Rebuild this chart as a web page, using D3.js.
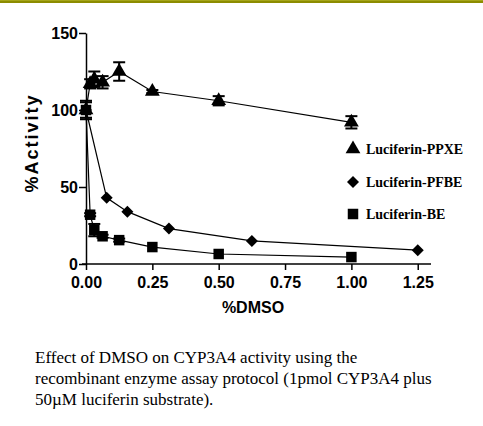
<!DOCTYPE html>
<html>
<head>
<meta charset="utf-8">
<script src="https://cdn.jsdelivr.net/npm/d3@7"></script>
<style>
  body { margin: 0; background: #fff; }
  .caption { position: absolute; left: 35px; top: 347px; white-space: nowrap;
    font: 17px "Liberation Serif", "Times New Roman", serif; line-height: 21px; color: #000; }
</style>
</head>
<body>
<div class="main"></div>
<div class="caption">Effect of DMSO on CYP3A4 activity using the<br>recombinant enzyme assay protocol (1pmol CYP3A4 plus<br>50µM luciferin substrate).</div>
<script>
const width = 483;
const height = 426;
const margin = ({top: 33, right: 52, bottom: 162, left: 86})

// %DMSO / %Activity
const ppxeX = [0, 0.0156, 0.03125, 0.0625, 0.125, 0.25, 0.5, 1.0];
const ppxeY = [100, 117, 120, 118, 125, 112, 106, 92];
const ppxeErr = [6, 3, 5, 4, 6, 1, 3, 4];

const pfbeX = [0, 0.078, 0.156, 0.3125, 0.625, 1.25];
const pfbeY = [100, 43, 34, 23, 15, 9];
const pfbeErr = [0, 0, 0, 0, 0, 0];

const beX = [0, 0.0156, 0.03125, 0.0625, 0.125, 0.25, 0.5, 1.0];
const beY = [100, 32, 22, 18, 15.5, 11, 6.5, 4.5];
const beErr = [5, 1, 4, 1, 1, 0, 0, 0];

const xTicks = [0, 0.25, 0.5, 0.75, 1.0, 1.25];
const yTicks = [0, 50, 100, 150];
const legendNames = ['Luciferin-PPXE', 'Luciferin-PFBE', 'Luciferin-BE'];

// diamond = square turned 45 degrees
const diamond = {
  draw(context, size) {
    const r = Math.sqrt(size / 2);
    context.moveTo(0, -r);
    context.lineTo(r, 0);
    context.lineTo(0, r);
    context.lineTo(-r, 0);
    context.closePath();
  }
};

const series = [
  {name: legendNames[0], shape: d3.symbolTriangle, size: 95, xs: ppxeX, ys: ppxeY, err: ppxeErr},
  {name: legendNames[1], shape: diamond, size: 72, xs: pfbeX, ys: pfbeY, err: pfbeErr},
  {name: legendNames[2], shape: d3.symbolSquare, size: 110, xs: beX, ys: beY, err: beErr},
];

const svg = d3.select('.main')
  .append('svg')
  .attr('width', width)
  .attr('height', height)
  .style('position', 'absolute')
  .style('left', 0).style('top', 0);

// olive rule along the top
svg.append('rect').attr('x', 0).attr('y', 0).attr('width', width).attr('height', 3).attr('fill', '#8c8c00');
svg.append('rect').attr('x', 0).attr('y', 0).attr('width', width).attr('height', 1).attr('fill', '#a5a51a');

const x = d3.scaleLinear()
  .domain([0, 1.3])
  .range([margin.left, width - margin.right]);

const y = d3.scaleLinear()
  .domain([0, 150])
  .range([height - margin.bottom, margin.top]);

const fontAxis = 'bold 16px "Liberation Sans", Arial, sans-serif';

// x axis
const gx = svg.append('g')
  .attr('transform', `translate(0, ${y(0)})`)
  .call(d3.axisBottom(x).tickValues(xTicks).tickFormat(d3.format('.2f')).tickSize(6).tickSizeOuter(0))
gx.select('.domain').attr('stroke-width', 1.5).attr('d', `M${x(0) - 4},0H${x(1.3)}`);
gx.selectAll('.tick line').attr('stroke-width', 1.5);
gx.selectAll('text').style('font', fontAxis).attr('y', 24).attr('dy', 0);

// y axis
const gy = svg.append('g')
  .attr('transform', `translate(${x(0)}, 0)`)
  .call(d3.axisLeft(y).tickValues(yTicks).tickSize(7).tickSizeOuter(0))
gy.select('.domain').attr('stroke-width', 1.5);
gy.selectAll('.tick line').attr('stroke-width', 1.5);
gy.selectAll('text').style('font', fontAxis).attr('x', -8);

// axis titles
svg.append('text')
  .attr('x', 253)
  .attr('y', 313)
  .attr('text-anchor', 'middle')
  .style('font', 'bold 16px "Liberation Sans", Arial, sans-serif')
  .text('%DMSO');

svg.append('text')
  .attr('transform', `translate(38, 143) rotate(-90)`)
  .attr('text-anchor', 'middle')
  .style('font', 'bold 18px "Liberation Sans", Arial, sans-serif')
  .style('letter-spacing', '2px')
  .text('%Activity');

const line = d3.line().x(d => x(d[0])).y(d => y(d[1]));

series.forEach(s => {
  const pts = s.xs.map((v, i) => [v, s.ys[i], s.err[i]]);
  const g = svg.append('g');

  g.append('path')
    .attr('d', line(pts))
    .attr('fill', 'none')
    .attr('stroke', '#000')
    .attr('stroke-width', 1.2);

  // error bars
  const eb = g.selectAll('.eb')
    .data(pts.filter(d => d[2] > 0))
    .enter()
    .append('g')
    .attr('stroke', '#000')
    .attr('stroke-width', 2);
  eb.append('line')
    .attr('x1', d => x(d[0])).attr('x2', d => x(d[0]))
    .attr('y1', d => y(d[1] - d[2])).attr('y2', d => y(d[1] + d[2]));
  eb.append('line')
    .attr('x1', d => x(d[0]) - 6).attr('x2', d => x(d[0]) + 6)
    .attr('y1', d => y(d[1] + d[2])).attr('y2', d => y(d[1] + d[2]));
  eb.append('line')
    .attr('x1', d => x(d[0]) - 6).attr('x2', d => x(d[0]) + 6)
    .attr('y1', d => y(d[1] - d[2])).attr('y2', d => y(d[1] - d[2]));

  g.selectAll('.pt')
    .data(pts)
    .enter()
    .append('path')
    .attr('transform', d => `translate(${x(d[0])}, ${y(d[1])})`)
    .attr('d', d3.symbol().type(s.shape).size(s.size))
    .attr('fill', '#000');
});

// legend
const legendY = [149, 182, 214];
const lg = svg.append('g');
series.forEach((s, i) => {
  lg.append('path')
    .attr('transform', `translate(353, ${legendY[i]})`)
    .attr('d', d3.symbol().type(s.shape).size(s.size))
    .attr('fill', '#000');
  lg.append('text')
    .attr('x', 366)
    .attr('y', legendY[i])
    .attr('dy', '0.35em')
    .style('font', 'bold 14px "Liberation Serif", "Times New Roman", serif')
    .text(s.name);
});
</script>
</body>
</html>
